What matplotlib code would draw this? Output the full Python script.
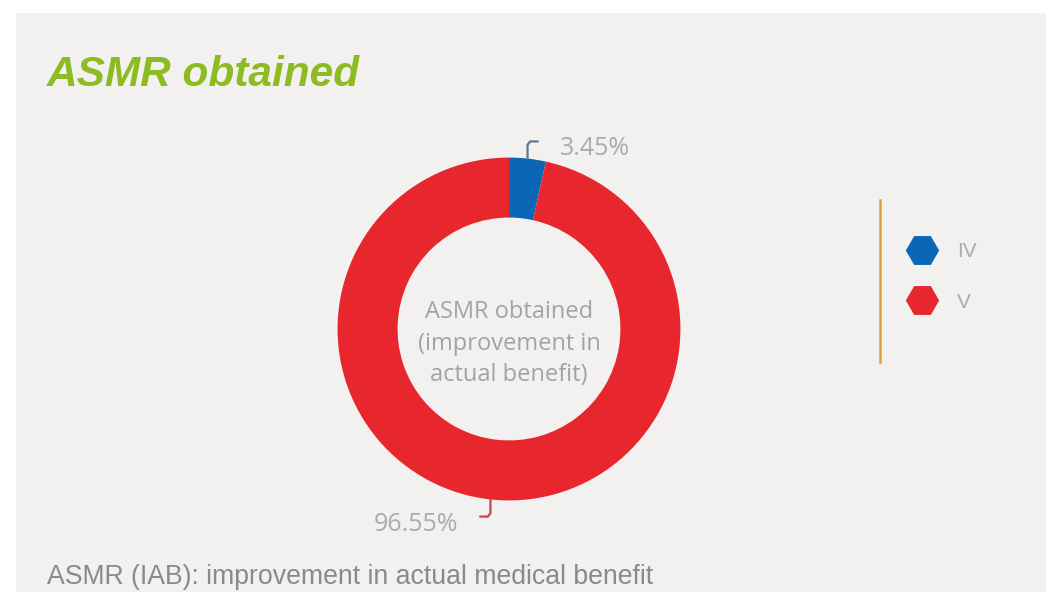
import numpy as np
import matplotlib
matplotlib.use("Agg")
import matplotlib.pyplot as plt
from matplotlib.lines import Line2D
from matplotlib.patches import Rectangle

# ---- data ----
categories = ["IV", "V"]
shares = [3.45, 96.55]
pct_labels = ["3.45%", "96.55%"]
colors = ["#0b67b5", "#e8262d"]
leader_colors = ["#5b7894", "#c2444f"]
title = "ASMR obtained"
center_text = "ASMR obtained\n(improvement in\nactual benefit)"
footnote = "ASMR (IAB): improvement in actual medical benefit"

W, H = 1046, 592
BG = "#f2f1ef"
fig = plt.figure(figsize=(W / 100, H / 100), dpi=100)
fig.patch.set_facecolor("white")
fig.add_artist(Rectangle((16 / W, 0), 1 - 16 / W, 1 - 13 / H,
                         transform=fig.transFigure, facecolor=BG,
                         edgecolor="none", zorder=0))

# pie axes: centre (509, 329) px from top-left, radius ~171 px
cx, cy, half = 509, 329, 180
ax = fig.add_axes([(cx - half) / W, (H - cy - half) / H, 2 * half / W, 2 * half / H])
ax.axis("off")

wedges, _ = ax.pie(shares, colors=colors, startangle=90, counterclock=False,
                   radius=1.0, wedgeprops=dict(width=0.35, edgecolor="none"))
ax.set_xlim(-1.05, 1.05)
ax.set_ylim(-1.05, 1.05)
ax.set_aspect("equal")

ax.text(0, -0.085, center_text, ha="center", va="center", color="#a3a3a3",
        fontsize=17, family="Open Sans", linespacing=1.42)

# leader lines + percentage labels
for i, w in enumerate(wedges):
    mid = np.deg2rad((w.theta1 + w.theta2) / 2)
    x0, y0 = np.cos(mid), np.sin(mid)
    sgn = 1 if y0 > 0 else -1
    hx = 1 if sgn > 0 else -1
    y1 = y0 + sgn * 0.08
    xs = [x0, x0, x0 + hx * 0.015, x0 + hx * 0.06]
    ys = [y0, y1, y1 + sgn * 0.02, y1 + sgn * 0.02]
    ax.plot(xs, ys, color=leader_colors[i], lw=1.6, solid_capstyle="round",
            clip_on=False)
    if sgn > 0:
        ax.text(x0 + 0.19, y1 - 0.02, pct_labels[i], ha="left", va="center",
                color="#ababab", fontsize=18, family="Open Sans")
    else:
        ax.text(x0 - 0.19, y1 - 0.065, pct_labels[i], ha="right", va="center",
                color="#ababab", fontsize=18, family="Open Sans")

# title
fig.text(47 / W, 1 - 75 / H, title, ha="left", va="center", color="#8cbb22",
         fontsize=30.5, fontweight="bold", fontstyle="italic",
         family="Liberation Sans")

# footnote
fig.text(47 / W, 1 - 577 / H, footnote, ha="left", va="center",
         color="#8a8a8a", fontsize=19.2, family="Liberation Sans")

# legend
handles = [Line2D([], [], linestyle="none", marker="H", markersize=24,
                  markerfacecolor=c, markeredgecolor="none") for c in colors]
leg = fig.legend(handles, categories, loc="center left",
                 bbox_to_anchor=(889 / W, 1 - 277 / H), frameon=False,
                 fontsize=15, labelspacing=1.5, handletextpad=0.95,
                 handlelength=1.4)
for t in leg.get_texts():
    t.set_color("#ababab")
    t.set_family("Liberation Sans")
fig.add_artist(Line2D([880 / W, 880 / W], [1 - 200 / H, 1 - 362 / H],
                      transform=fig.transFigure, color="#d9a33c", lw=1.8))

fig.savefig("out.png", dpi=100, facecolor=fig.get_facecolor())
